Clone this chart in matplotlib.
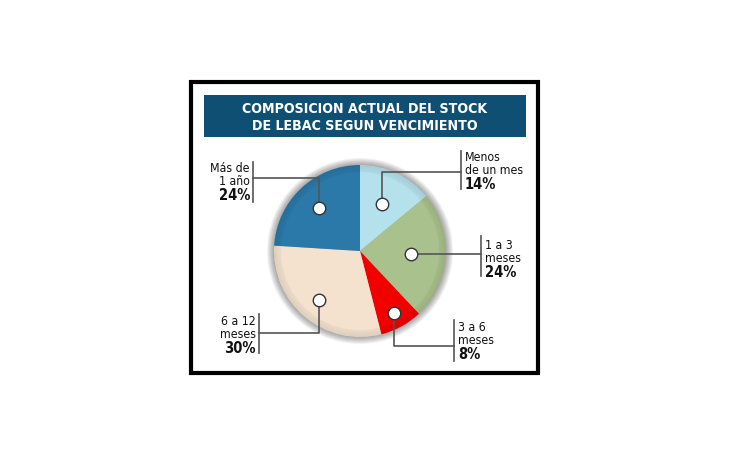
import numpy as np
import matplotlib
matplotlib.use("Agg")
import matplotlib.pyplot as plt
from matplotlib.patches import Rectangle, Wedge, Circle

plt.rcParams['font.family'] = ['DejaVu Sans']
plt.rcParams['font.stretch'] = 'condensed'

# data
labels = [("Menos", "de un mes"), ("1 a 3", "meses"), ("3 a 6", "meses"),
          ("6 a 12", "meses"), ("Más de", "1 año")]
values = [14, 24, 8, 30, 24]
colors = ["#b4e1ec", "#a9c18c", "#f20000", "#f4e2cf", "#2a79a9"]
title_lines = ["COMPOSICION ACTUAL DEL STOCK", "DE LEBAC SEGUN VENCIMIENTO"]

# layout (pixel coordinates, y down)
W, H = 730, 460
cx, cy, R = 360, 252, 86
dot_r = [0.60, 0.60, 0.82, 0.74, 0.69]
callouts = [
    dict(elbow=("v", 173), bar_x=461, bar_y=(152, 190), tx=465, ty=158, ha="left"),
    dict(elbow=("h", None), bar_x=481, bar_y=(237, 277), tx=485, ty=246, ha="left"),
    dict(elbow=("v", 347), bar_x=454, bar_y=(321, 362), tx=458, ty=328, ha="left"),
    dict(elbow=("v", 334), bar_x=259, bar_y=(315, 354), tx=256, ty=322, ha="right"),
    dict(elbow=("v", 179), bar_x=253, bar_y=(163, 203), tx=250, ty=169, ha="right"),
]

fig = plt.figure(figsize=(W / 100, H / 100), dpi=100)
ax = fig.add_axes([0, 0, 1, 1])

# frame and title banner
ax.add_patch(Rectangle((191, 83), 347, 291, facecolor="white", edgecolor="black", lw=3, zorder=0))
ax.add_patch(Rectangle((204, 96), 322, 42, facecolor="#0f4f73", edgecolor="none", zorder=1))
for i, t in enumerate(title_lines):
    ax.text(365, 109 + 17 * i, t, color="white", fontsize=10.2, fontweight="bold",
            ha="center", va="center", zorder=2)

# soft shadow around the pie
for i in range(8):
    ax.add_patch(Circle((cx, cy), R + 7 - i, facecolor="#000000", alpha=0.05, lw=0, zorder=2))

wedges, _ = ax.pie(values, colors=colors, startangle=-90, counterclock=True,
                   center=(cx, cy), radius=R, frame=True,
                   wedgeprops=dict(linewidth=0, zorder=3))
ax.set_xlim(0, W)
ax.set_ylim(H, 0)
ax.set_aspect("equal")
ax.axis("off")

# darker rim to fake the 3D edge
for i in range(7):
    ax.add_patch(Wedge((cx, cy), R - i, 0, 360, width=1.2, facecolor="black",
                       alpha=0.05 * (7 - i) / 7 + 0.02, lw=0, zorder=4))

# callouts
for w, rf, c, lab, v in zip(wedges, dot_r, callouts, labels, values):
    mid = np.deg2rad((w.theta1 + w.theta2) / 2)
    px = cx + rf * R * np.cos(mid)
    py = cy + rf * R * np.sin(mid)
    kind, ey = c["elbow"]
    if kind == "v":
        xs, ys = [px, px, c["bar_x"]], [py, ey, ey]
    else:
        xs, ys = [px, c["bar_x"]], [py, py]
    ax.plot(xs, ys, color="#555555", lw=1.2, zorder=5)
    ax.plot([c["bar_x"], c["bar_x"]], c["bar_y"], color="#555555", lw=1.2, zorder=5)
    ax.plot(px, py, "o", ms=9, mfc="white", mec="#333333", mew=1, zorder=6)
    for j, line in enumerate(lab):
        ax.text(c["tx"], c["ty"] + 13 * j, line, fontsize=8.8, ha=c["ha"], va="center",
                color="#111111", zorder=6)
    ax.text(c["tx"], c["ty"] + 27, f"{v}%", fontsize=10.5, fontweight="bold",
            ha=c["ha"], va="center", color="#111111", zorder=6)

fig.savefig("out.png", dpi=100)
